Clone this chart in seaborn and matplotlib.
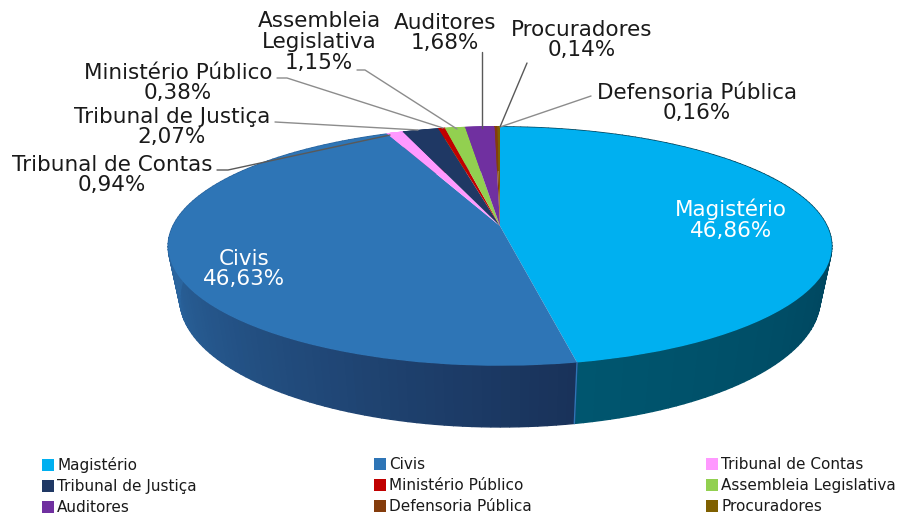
import numpy as np
import matplotlib
matplotlib.use("Agg")
import matplotlib.pyplot as plt
import matplotlib.colors as mcolors
from matplotlib.transforms import Transform
import seaborn as sns

# dados
categorias = ["Magistério", "Civis", "Tribunal de Contas", "Tribunal de Justiça", "Ministério Público",
              "Assembleia Legislativa", "Auditores", "Defensoria Pública", "Procuradores"]
valores = [46.86, 46.63, 0.94, 2.07, 0.38, 1.15, 1.68, 0.16, 0.14]
rotulos = ["Magistério\n46,86%", "Civis\n46,63%", "Tribunal de Contas\n0,94%", "Tribunal de Justiça\n2,07%",
           "Ministério Público\n0,38%", "Assembleia\nLegislativa\n1,15%", "Auditores\n1,68%",
           "Defensoria Pública\n0,16%", "Procuradores\n0,14%"]
cores = ["#00B0F0", "#2E75B6", "#FF99FF", "#1F3864", "#C00000", "#92D050", "#7030A0", "#843C0C", "#7F6000"]

# posicao dos rotulos em pixels da imagem
pos_rotulos = [(731, 220), (244, 269), (112, 175), (172, 127), (178, 83), (319, 42), (445, 33), (697, 103), (582, 40)]
# linhas de chamada por categoria
chamadas = {2: [(217, 170), (228, 170), (390, 135)],
            3: [(275, 122), (418, 130)],
            4: [(277, 78), (287, 78), (443, 128)],
            5: [(357, 70), (365, 70), (457, 129)],
            6: [(482, 52), (482, 128)],
            7: [(591, 96), (500, 127)],
            8: [(527, 63), (500, 127)]}

# geometria da pizza em perspectiva
CX, CY, RX, RY, K = 500, 226, 327, 116, 0.17
ALTURA, ESCALA_BASE = 50.8, 0.965


def projeta(u, v, base=False):
    s = 1 / (1 + K * v)
    if base:
        return CX + RX * ESCALA_BASE * u * s, CY - RY * v * s + ALTURA * s
    return CX + RX * u * s, CY - RY * v * s


class VistaPizza(Transform):
    input_dims = 2
    output_dims = 2

    def transform_non_affine(self, values):
        x, y = projeta(values[:, 0], values[:, 1])
        return np.column_stack([x, y])


sns.set_theme(style="white")
plt.rcParams['font.family'] = ['DejaVu Sans']

fig = plt.figure(figsize=(9.01, 5.14), dpi=100)
ax = fig.add_axes([0, 0, 1, 1])

fatias, _ = ax.pie(valores, colors=sns.color_palette(cores), startangle=90, counterclock=False,
                   wedgeprops={'linewidth': 0})
ax.set_aspect('auto')
ax.set_xlim(0, 901)
ax.set_ylim(514, 0)
ax.axis('off')

# lateral: (fracao da fatia, cor) para as duas fatias grandes
gradientes = {0: ([0, 0.6, 1], ["#00455E", "#00465F", "#00566F"]),
              1: ([0, 0.55, 1], ["#19325A", "#2A659F", "#2A659F"])}

for i, fatia in enumerate(fatias):
    angulos = np.radians(np.linspace(fatia.theta2, fatia.theta1, 120))
    u, v = np.cos(angulos), np.sin(angulos)
    xt, yt = projeta(u, v)
    xb, yb = projeta(u, v, base=True)
    for j in range(len(angulos) - 1):
        cor = cores[i]
        if i in gradientes:
            f = j / (len(angulos) - 2)
            pontos, lista = gradientes[i]
            rgb = np.array([mcolors.to_rgb(c) for c in lista])
            cor = [np.interp(f, pontos, rgb[:, k]) for k in range(3)]
        ax.fill([xt[j], xt[j + 1], xb[j + 1], xb[j]], [yt[j], yt[j + 1], yb[j + 1], yb[j]],
                color=cor, lw=1, zorder=1)

for fatia in fatias:
    fatia.set_transform(VistaPizza() + ax.transData)
    fatia.set_zorder(2)

# emenda clara entre Magisterio e Civis na lateral
a = np.radians(fatias[0].theta1)
x0, y0 = projeta(np.cos(a), np.sin(a))
x1, y1 = projeta(np.cos(a), np.sin(a), base=True)
ax.plot([x0, x1], [y0, y1], color="#2E75B6", lw=1, zorder=3)

for i, pontos in chamadas.items():
    xs, ys = zip(*pontos)
    cor_linha = "#595959" if i in (2, 6, 8) else "#8C8C8C"
    ax.plot(xs, ys, color=cor_linha, lw=1, zorder=4)

for i, (rotulo, (x, y)) in enumerate(zip(rotulos, pos_rotulos)):
    ax.text(x, y, rotulo, ha='center', va='center', fontsize=15.5, linespacing=1.06,
            color='white' if i < 2 else '#1A1A1A', zorder=5)

# legenda em tres colunas, preenchida por linha
for col, x in enumerate([42, 374, 706]):
    idx = list(range(col, 9, 3))
    leg = ax.legend([fatias[i] for i in idx], [categorias[i] for i in idx], loc='upper left',
                    bbox_to_anchor=(x, 457), bbox_transform=ax.transData,
                    frameon=False, fontsize=11, handlelength=0.8, handleheight=0.8, handletextpad=0.2,
                    labelspacing=0.4, borderpad=0, borderaxespad=0, labelcolor='#1A1A1A')
    ax.add_artist(leg)
ax.legend_ = None

fig.savefig("out.png", dpi=100)
